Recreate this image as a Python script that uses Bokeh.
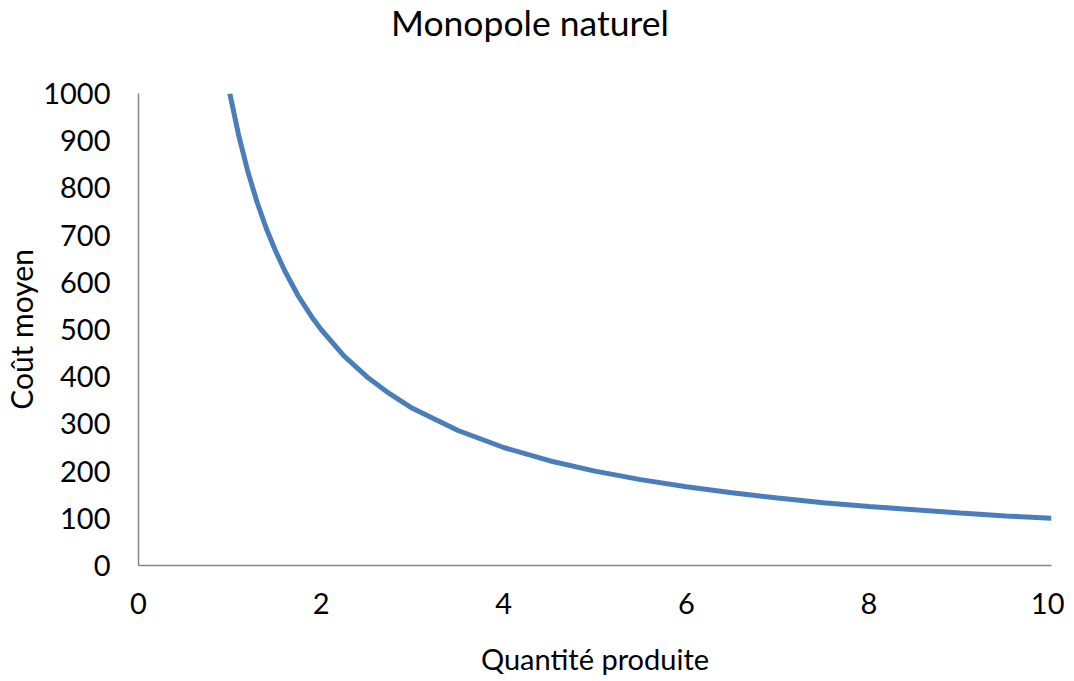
from bokeh.plotting import figure
from bokeh.models import Range1d, FixedTicker, Div
from bokeh.layouts import column
from bokeh.embed import file_html
from bokeh.resources import INLINE

# Data (average cost vs quantity)
quantite = [1.0, 1.1, 1.2, 1.3, 1.4, 1.5, 1.6, 1.75, 1.9, 2.0, 2.25, 2.5, 2.75,
            3.0, 3.5, 4.0, 4.5, 5.0, 5.5, 6.0, 6.5, 7.0, 7.5, 8.0, 8.5, 9.0, 9.5, 10.0]
cout_moyen = [1000, 909, 833, 769, 714, 667, 625, 571, 526, 500, 444, 400, 364,
              333, 286, 250, 222, 200, 182, 167, 154, 143, 133, 125, 118, 111, 105, 100]
x_ticks = [0, 2, 4, 6, 8, 10]
y_ticks = [0, 100, 200, 300, 400, 500, 600, 700, 800, 900, 1000]
titre = "Monopole naturel"

FONT = "Lato"

titre_div = Div(text=titre, width=1058, height=40,
                styles={"font-family": FONT, "font-size": "35.5px", "line-height": "35px",
                        "color": "#000000", "padding-left": "386px",
                        "white-space": "nowrap"})

p = figure(frame_width=913, frame_height=472, output_backend="svg", toolbar_location=None,
           x_range=Range1d(0, 10), y_range=Range1d(0, 1000),
           min_border_left=132, min_border_right=13, min_border_top=43,
           min_border_bottom=100)
p.title = None

p.line(quantite, cout_moyen, line_color="#4A7EBB", line_width=5)

p.grid.visible = False
p.outline_line_color = None
p.background_fill_color = "white"
p.border_fill_color = "white"

for ax in (p.xaxis[0], p.yaxis[0]):
    ax.axis_line_color = "#868686"
    ax.axis_line_width = 1.5
    ax.major_tick_line_color = None
    ax.minor_tick_line_color = None
    ax.major_label_text_font = FONT
    ax.major_label_text_font_size = "29px"
    ax.major_label_text_color = "#000000"
    ax.axis_label_text_font = FONT
    ax.axis_label_text_font_style = "normal"
    ax.axis_label_text_color = "#000000"

p.xaxis.axis_label_text_font_size = "29px"
p.yaxis.axis_label_text_font_size = "30px"
p.xaxis.ticker = FixedTicker(ticks=x_ticks)
p.yaxis.ticker = FixedTicker(ticks=y_ticks)
p.xaxis.axis_label = "Quantité produite"
p.yaxis.axis_label = "Coût moyen"
p.xaxis.major_label_standoff = 21
p.yaxis.major_label_standoff = 22
p.xaxis.axis_label_standoff = 24
p.yaxis.axis_label_standoff = 1

layout = column(titre_div, p, spacing=0)
open("out.html", "w").write(file_html(layout, INLINE))
